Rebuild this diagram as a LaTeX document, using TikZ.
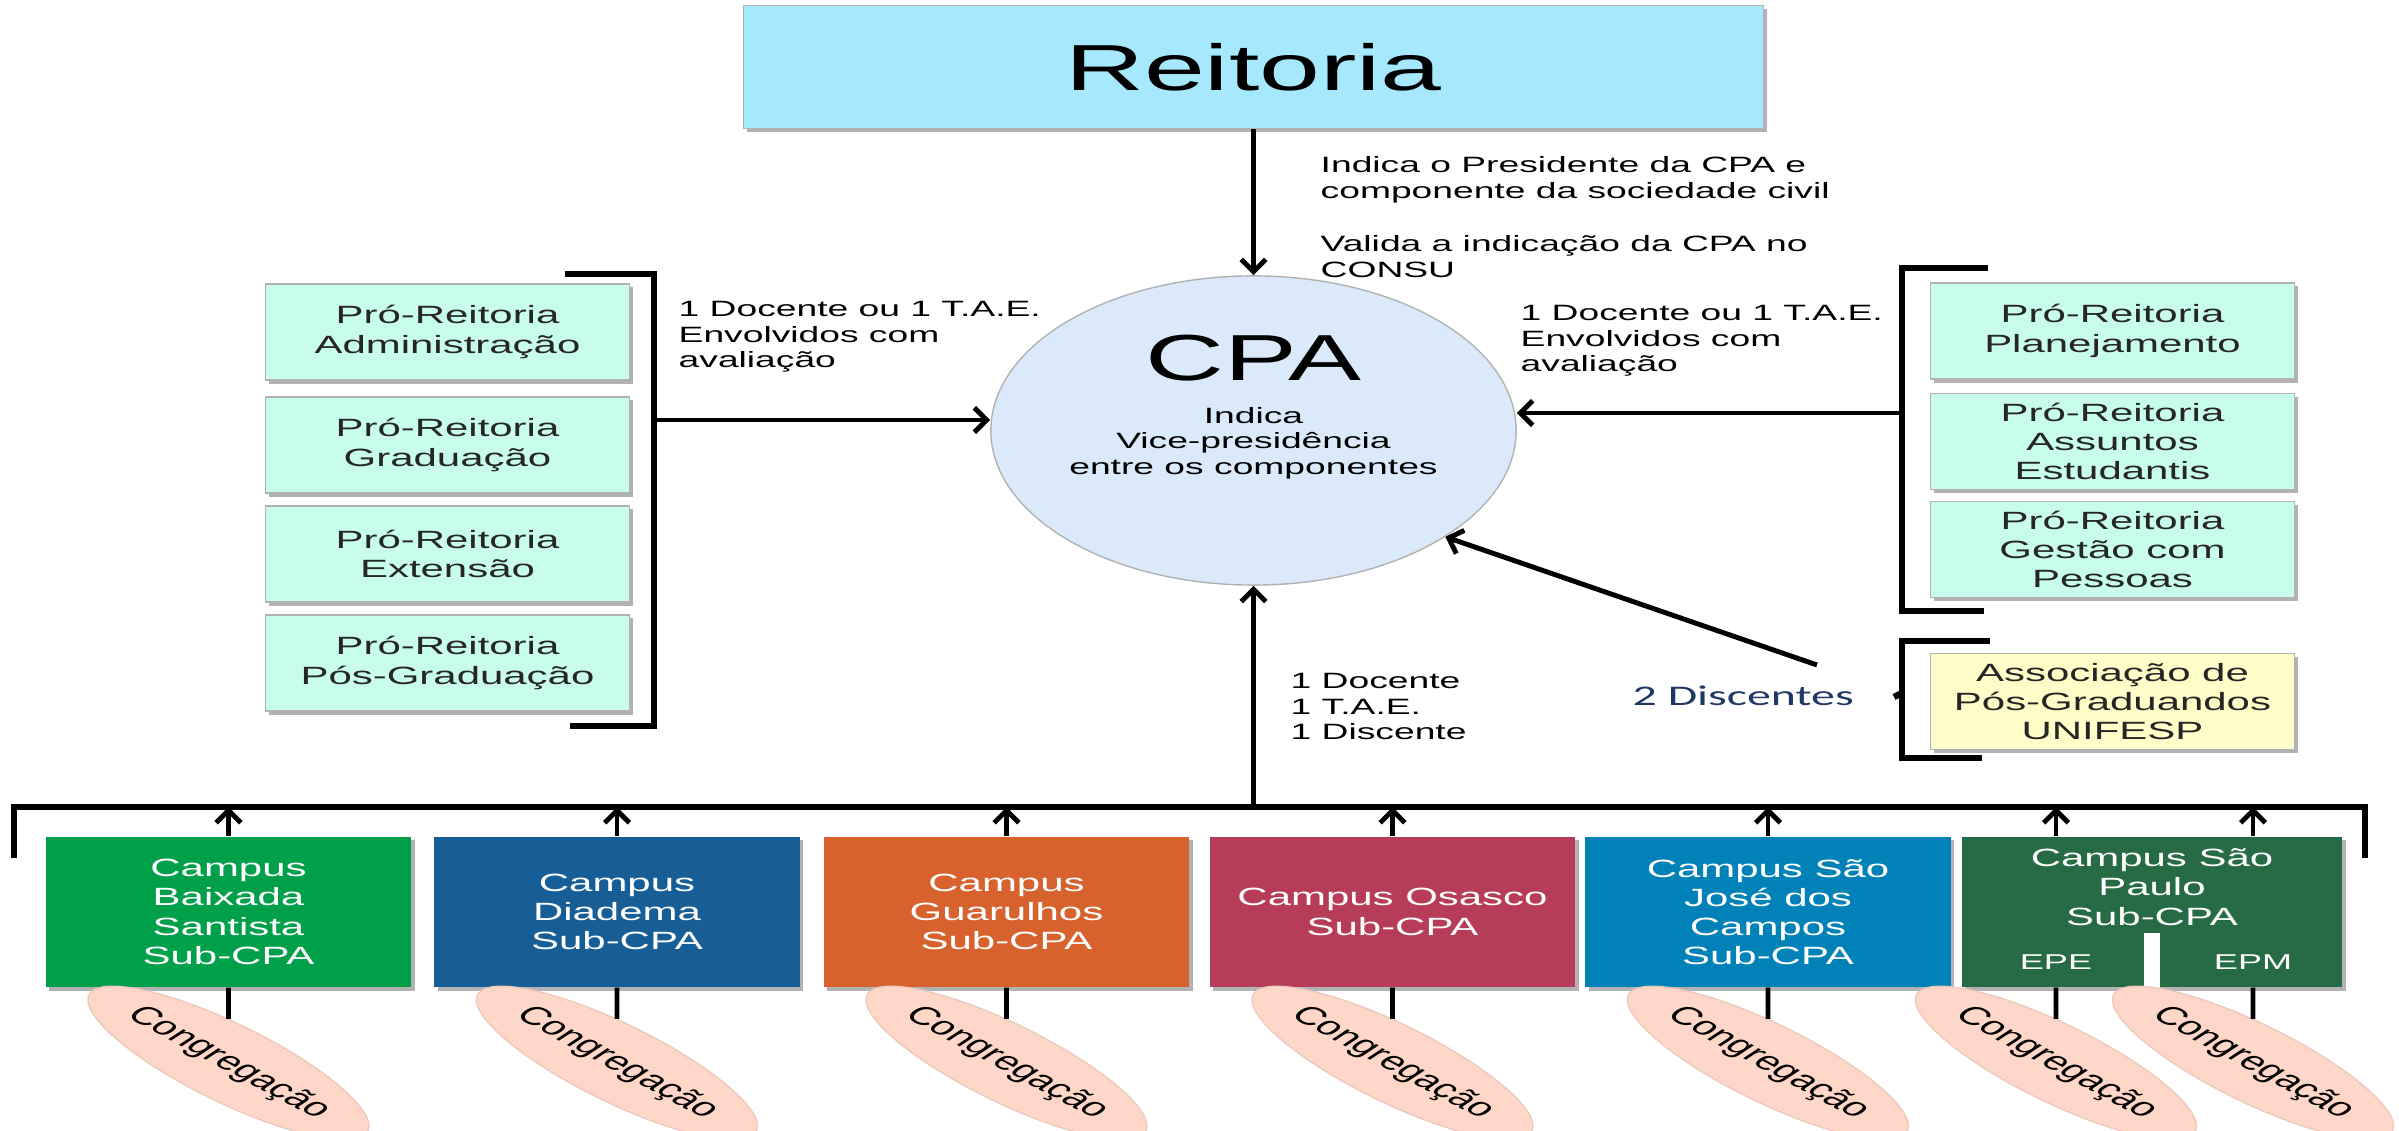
\documentclass[tikz,border=0pt]{standalone}
\usepackage{fontspec}
\setmainfont{Liberation Sans}[FakeStretch=1.68]
\newfontfamily\plainsans{Liberation Sans}
\newfontfamily\discfont{Carlito}[FakeStretch=1.68]
\usepackage{tikz}
\usetikzlibrary{arrows.meta,shapes.geometric,shadows}

\definecolor{reitFill}{RGB}{166,232,253}
\definecolor{proFill}{RGB}{200,253,236}
\definecolor{cpaFill}{RGB}{218,234,250}
\definecolor{assocFill}{RGB}{255,253,200}
\definecolor{congFill}{RGB}{255,215,200}
\definecolor{discBlue}{RGB}{31,56,100}
\definecolor{cBaixada}{RGB}{0,160,75}
\definecolor{cDiadema}{RGB}{23,94,150}
\definecolor{cGuarulhos}{RGB}{215,98,45}
\definecolor{cOsasco}{RGB}{183,60,87}
\definecolor{cSJC}{RGB}{0,130,185}
\definecolor{cSP}{RGB}{38,107,68}

\tikzset{
  boxshadow/.style={drop shadow={shadow xshift=1pt, shadow yshift=-1pt, fill=black, opacity=0.3}},
  probox/.style={draw=gray!60, fill=proFill, boxshadow, minimum width=3.64cm, minimum height=0.96cm,
    inner sep=0pt, align=center, text=black!85, font=\fontsize{7.1}{8.3}\selectfont},
  campus/.style={boxshadow, minimum width=3.65cm, minimum height=1.5cm, inner sep=0pt,
    align=center, text=white, font=\fontsize{7.1}{8.3}\selectfont},
  congreg/.style={ellipse, fill=congFill, draw=congFill!85!gray, minimum width=3.44cm, minimum height=1.13cm,
    inner sep=0pt, font=\plainsans\fontsize{12.2}{14}\selectfont, yscale=0.595, rotate=-42},
  note/.style={anchor=north west, inner sep=0pt, align=left, font=\fontsize{6.3}{7.2}\selectfont},
  arr/.style={line width=1.4pt, -{Straight Barb[length=3.5pt,width=7pt]}},
  brk/.style={line width=1.8pt},
}

\begin{document}
\begin{tikzpicture}[x=0.01cm, y=-0.01cm]
  \useasboundingbox (0,0) rectangle (2399,1131);
  \clip (0,0) rectangle (2399,1131);

  % Reitoria e CPA
  \node[draw=gray!60, fill=reitFill, boxshadow, minimum width=10.19cm, minimum height=1.23cm,
    font=\fontsize{18.5}{22}\selectfont] (rei) at (1253.5,67) {Reitoria};
  \node[ellipse, draw=gray!60, fill=cpaFill, minimum width=5.25cm, minimum height=3.09cm] (cpa) at (1253.5,430.5) {};
  \node[inner sep=0pt, font=\fontsize{18.5}{22}\selectfont] (cpatit) at (1253.5,358) {CPA};
  \node[inner sep=0pt, align=center, font=\fontsize{6.3}{7.3}\selectfont] (cpatxt) at (1253.5,443)
    {Indica\\Vice-presidência\\entre os componentes};
  \draw[arr] (rei) -- (cpa);
  \node[note] (n1) at (1320,156) {Indica o Presidente da CPA e\\componente da sociedade civil};
  \node[note] (n2) at (1320,235) {Valida a indicação da CPA no\\CONSU};

  % Pró-Reitorias da esquerda
  \node[probox] (padm) at (447.5,332) {Pró-Reitoria\\Administração};
  \node[probox] (pgrad) at (447.5,445) {Pró-Reitoria\\Graduação};
  \node[probox] (pext) at (447.5,554) {Pró-Reitoria\\Extensão};
  \node[probox] (ppos) at (447.5,663) {Pró-Reitoria\\Pós-Graduação};
  \draw[brk] (565,274) -- (654,274) -- (654,726) -- (570,726);
  \coordinate (lbr) at (654,420);
  \draw[arr] (lbr) -- (lbr -| cpa.west);
  \node[note] (n3) at (678,301) {1 Docente ou 1 T.A.E.\\Envolvidos com\\avaliação};

  % Pró-Reitorias da direita
  \node[probox] (pplan) at (2112.5,331) {Pró-Reitoria\\Planejamento};
  \node[probox] (pae) at (2112.5,441.5) {Pró-Reitoria\\Assuntos\\Estudantis};
  \node[probox] (pgp) at (2112.5,549.5) {Pró-Reitoria\\Gestão com\\Pessoas};
  \draw[brk] (1988,268) -- (1902,268) -- (1902,611) -- (1984,611);
  \coordinate (rbr) at (1902,413);
  \draw[arr] (rbr) -- (rbr -| cpa.east);
  \node[note] (n4) at (1520,305) {1 Docente ou 1 T.A.E.\\Envolvidos com\\avaliação};

  % pós-graduandos
  \node[probox, fill=assocFill] (apg) at (2112.5,701.5) {Associação de\\Pós-Graduandos\\UNIFESP};
  \draw[brk] (1990,641) -- (1902,641) -- (1902,758) -- (1982,758);
  \draw[brk] (1902,693) -- (1894,697);
  \node[anchor=base west, inner sep=0pt, text=discBlue, font=\discfont\fontsize{8.1}{9.5}\selectfont]
    (disc) at (1632,706) {2 Discentes};
  \coordinate (dst) at (1817,665);
  \draw[arr] (dst) -- (cpa.-29);

  % campi
  \coordinate (bus) at (1253.5,807);
  \coordinate (cgrow) at (0,1063);
  \draw[brk, line width=1.5pt] (14,858) |- (2365,807) -- (2365,858);
  \draw[arr] (bus) -- (cpa);
  \node[note] (n5) at (1290,673) {1 Docente\\1 T.A.E.\\1 Discente};

  \node[campus, fill=cBaixada] (bsan) at (228.5,912) {Campus\\Baixada\\Santista\\Sub-CPA};
  \node[campus, fill=cDiadema] (diad) at (617,912) {Campus\\Diadema\\Sub-CPA};
  \node[campus, fill=cGuarulhos] (guar) at (1006.5,912) {Campus\\Guarulhos\\Sub-CPA};
  \node[campus, fill=cOsasco] (osas) at (1392.5,912) {Campus Osasco\\Sub-CPA};
  \node[campus, fill=cSJC] (sjc) at (1768,912) {Campus São\\José dos\\Campos\\Sub-CPA};
  \node[campus, fill=cSP, minimum width=3.8cm] (spau) at (2152,912) {};
  \fill[white] (2144,933) rectangle (2160,992);
  \node[inner sep=0pt, align=center, text=white, font=\fontsize{7.1}{8.3}\selectfont]
    (sptxt) at ([yshift=0.25cm]spau.center) {Campus São\\Paulo\\Sub-CPA};
  \node[inner sep=0pt, text=white, font=\fontsize{6.1}{7}\selectfont] (epe) at (2056,962) {EPE};
  \node[inner sep=0pt, text=white, font=\fontsize{6.1}{7}\selectfont] (epm) at (2253,962) {EPM};

  \foreach \c/\g in {bsan/cg1, diad/cg2, guar/cg3, osas/cg4, sjc/cg5} {
    \draw[arr] (\c.north) -- (\c.north |- bus);
    \node[congreg] (\g) at (\c |- cgrow) {Congregação};
    \draw[line width=1.4pt] (\c.south) -- (\g);
  }
  \foreach \e/\g in {epe/cg6, epm/cg7} {
    \draw[arr] (\e |- spau.north) -- (\e |- bus);
    \node[congreg] (\g) at (\e |- cgrow) {Congregação};
    \draw[line width=1.4pt] (\e |- spau.south) -- (\g);
  }
\end{tikzpicture}
\end{document}
